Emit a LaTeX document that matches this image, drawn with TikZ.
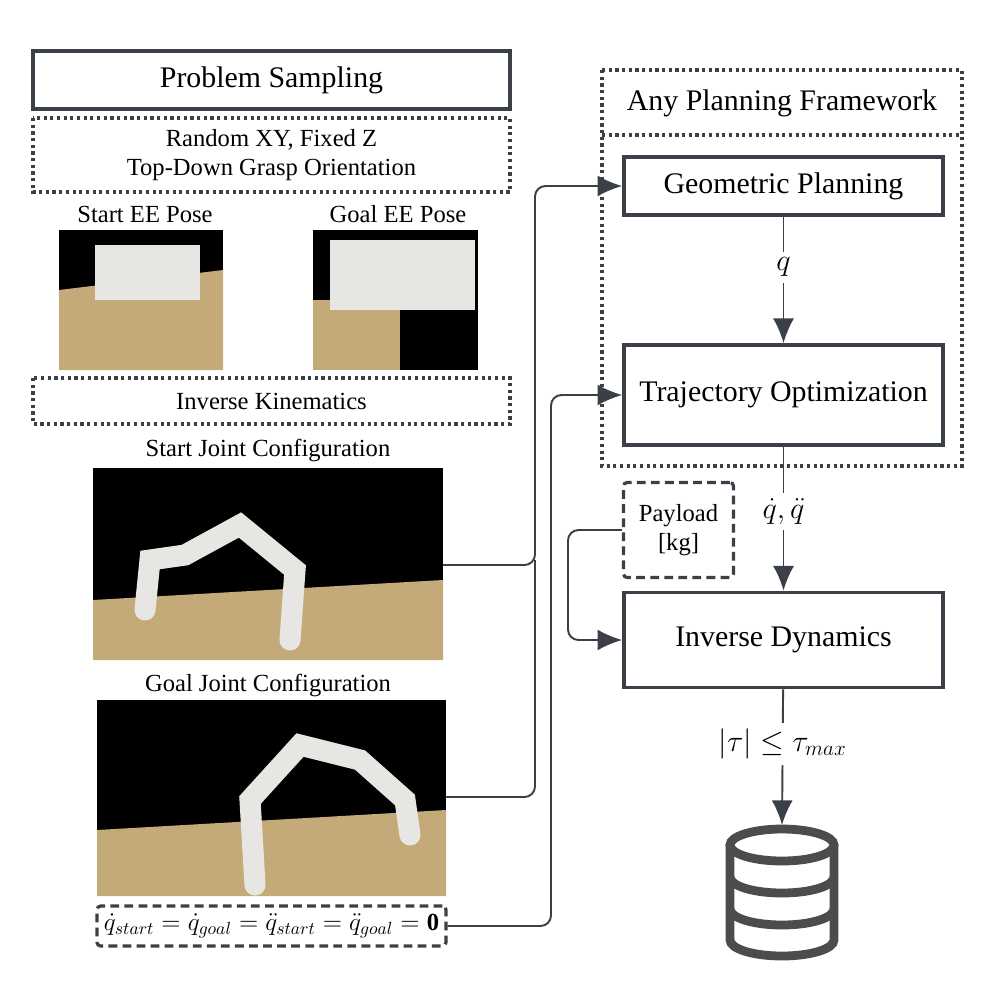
\documentclass[tikz,border=0pt]{standalone}
\usepackage{fontspec}
\setmainfont{Liberation Serif}
\usetikzlibrary{arrows.meta}
\definecolor{darkgray}{RGB}{59,64,72}
\definecolor{tablewood}{RGB}{196,170,120}
\definecolor{robotwhite}{RGB}{232,230,226}

\tikzset{
  block/.style={draw=darkgray, line width=2.2pt, minimum height=1.16cm, font=\fontsize{17}{20}\selectfont},
  dotbox/.style={draw=darkgray, line width=1.8pt, dotted},
  dashbox/.style={draw=darkgray, line width=1.8pt, dash pattern=on 5pt off 3pt, rounded corners=2pt},
  flow/.style={darkgray, line width=1.1pt, -{Latex[length=14pt,width=12pt]}},
  link/.style={darkgray, line width=1.1pt, rounded corners=6pt, -{Latex[length=14pt,width=12pt]}},
  caption/.style={font=\fontsize{14}{16.5}\selectfont},
  flowlabel/.style={fill=white, text=black, font=\fontsize{18}{20}\selectfont},
}

\begin{document}
\begin{tikzpicture}[x=0.02cm, y=-0.02cm]
  \useasboundingbox (0,0) rectangle (996,984);

  % left column: problem sampling
  \node[block, minimum width=9.54cm] (sampling) at (271.5,80) {Problem Sampling};
  \draw[dotbox] (33,118) rectangle (510,192);
  \node[caption, align=center] (grasp) at (271.5,155) {Random XY, Fixed Z\\Top-Down Grasp Orientation};

  \node[caption] (startee) at (145,214) {Start EE Pose};
  \node[caption] (goalee) at (398,214) {Goal EE Pose};
  \fill[black] (59,230) rectangle (223,370);
  \fill[tablewood] (59,290) -- (223,270) -- (223,370) -- (59,370) -- cycle;
  \fill[robotwhite] (95,245) rectangle (200,300);
  \fill[black] (313,230) rectangle (478,370);
  \fill[tablewood] (313,300) rectangle (400,370);
  \fill[robotwhite] (330,240) rectangle (475,310);

  \draw[dotbox] (33,378) rectangle (510,424);
  \node[caption] (ik) at (271.5,401) {Inverse Kinematics};

  \node[caption] (startjc) at (268,450) {Start Joint Configuration};
  \fill[black] (93,468) rectangle (443,660);
  \fill[tablewood] (93,600) -- (443,580) -- (443,660) -- (93,660) -- cycle;
  \draw[robotwhite, line width=12pt, line cap=round] (290,640) -- (295,570) -- (240,525) -- (185,555) -- (150,560) -- (145,610);
  \node[caption] (goaljc) at (268,685) {Goal Joint Configuration};
  \fill[black] (97,700) rectangle (446,896);
  \fill[tablewood] (97,830) -- (446,810) -- (446,896) -- (97,896) -- cycle;
  \draw[robotwhite, line width=12pt, line cap=round] (255,885) -- (250,800) -- (300,745) -- (360,760) -- (405,800) -- (410,835);

  \coordinate (startimg) at (443,565);
  \coordinate (goalimg) at (446,797);
  \node[dashbox, minimum width=6.98cm, minimum height=0.8cm, font=\fontsize{14}{16}\selectfont] (rest) at (271.5,926)
    {$\dot q_{start} = \dot q_{goal} = \ddot q_{start} = \ddot q_{goal} = \mathbf{0}$};

  % right column: planning
  \draw[dotbox] (602,70) rectangle (962,466);
  \draw[dotbox] (602,135) -- (962,135);
  \node[font=\fontsize{17}{20}\selectfont] (framework) at (782,103) {Any Planning Framework};
  \node[block, minimum width=6.38cm] (geom) at (783.5,186) {Geometric Planning};
  \node[block, minimum width=6.38cm, minimum height=2cm] (trajopt) at (783.5,395) {Trajectory Optimization};
  \node[block, minimum width=6.38cm, minimum height=1.9cm] (invdyn) at (783.5,640) {Inverse Dynamics};
  \node[dashbox, align=center, minimum width=2.2cm, minimum height=1.9cm, caption] (payload) at (678.5,530) {Payload\\{}[kg]};

  % database icon
  \coordinate (db) at (782,825);
  \begin{scope}[line width=5pt, draw=black!70]
    \draw (730,845) -- (730,940) arc[x radius=52, y radius=-16, start angle=180, end angle=360] -- (834,845);
    \draw (782,845) ellipse[x radius=52, y radius=16];
    \draw (730,877) arc[x radius=52, y radius=-16, start angle=180, end angle=360];
    \draw (730,909) arc[x radius=52, y radius=-16, start angle=180, end angle=360];
  \end{scope}

  \draw[flow] (geom) -- node[flowlabel, pos=0.4] {$q$} (trajopt);
  \draw[flow] (trajopt) -- node[flowlabel, pos=0.45] {$\dot q,\ddot q$} (invdyn);
  \draw[flow] (invdyn) -- node[flowlabel, pos=0.4] {$|\tau| \leq \tau_{max}$} (db);

  \draw[link] (startimg) -| (535,186) -- (geom.west);
  \draw[darkgray, line width=1.1pt, rounded corners=6pt] (goalimg) -| (535,560);
  \draw[link] (rest.east) -| (551,395) -- (trajopt.west);
  \draw[link] (payload.west) -| (568,640) -- (invdyn.west);
\end{tikzpicture}
\end{document}
